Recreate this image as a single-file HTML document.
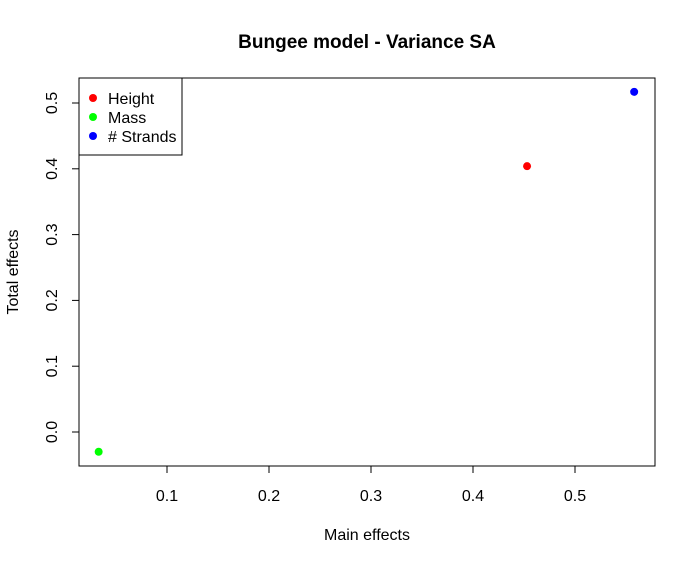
<!DOCTYPE html>
<html><head><meta charset="utf-8"><style>
body{margin:0;background:#fff}
svg text{font-family:"Liberation Sans",sans-serif;fill:#000}
</style></head><body>
<svg id="chart" width="696" height="565">
<text x="367" y="48" text-anchor="middle" font-size="19" font-weight="bold">Bungee model - Variance SA</text>
<rect x="79" y="78" width="576" height="388" fill="none" stroke="#000"/>
<g id="xaxis"></g>
<g id="yaxis"></g>
<text x="367" y="540" text-anchor="middle" font-size="16">Main effects</text>
<text transform="translate(18,272) rotate(-90)" text-anchor="middle" font-size="16">Total effects</text>
<g id="points"></g>
<g>
<rect x="79" y="78" width="103" height="77" fill="#fff" stroke="#000"/>
<g id="legend"></g>
</g>
</svg>
<script>
const names=["Height","Mass","# Strands"];
const mainEffects=[0.453,0.033,0.558];
const totalEffects=[0.404,-0.030,0.517];
const colors=["#ff0000","#00ff00","#0000ff"];
const xTicks=[0.1,0.2,0.3,0.4,0.5];
const yTicks=[0.0,0.1,0.2,0.3,0.4,0.5];
const NS="http://www.w3.org/2000/svg";
const xs=v=>167+(v-0.1)*1020;
const ys=v=>432-v*658;
function mk(t,a,p){const e=document.createElementNS(NS,t);for(const k in a)e.setAttribute(k,a[k]);p.appendChild(e);return e;}
const xa=document.getElementById('xaxis');
mk('line',{x1:xs(0.1),x2:xs(0.5),y1:466,y2:466,stroke:'#000'},xa);
xTicks.forEach(v=>{
 const l=mk('line',{x1:xs(v),x2:xs(v),y1:466,y2:473,stroke:'#000'},xa);
 
 
 const t=mk('text',{x:xs(v),y:501,'text-anchor':'middle','font-size':16},xa);
 
 
 t.textContent=v.toFixed(1);
});
const ya=document.getElementById('yaxis');
mk('line',{x1:79,x2:79,y1:ys(0),y2:ys(0.5),stroke:'#000'},ya);
yTicks.forEach(v=>{
 const l=mk('line',{x1:72,x2:79,y1:ys(v),y2:ys(v),stroke:'#000'},ya);
 
 
 const t=mk('text',{transform:`translate(57,${ys(v)}) rotate(-90)`,'text-anchor':'middle','font-size':16},ya);
 
 
 t.textContent=v.toFixed(1);
});
const pg=document.getElementById('points');
names.forEach((n,i)=>{
 const c=mk('circle',{cx:xs(mainEffects[i]),cy:ys(totalEffects[i]),r:4,fill:colors[i]},pg);
 
 
});
const lg=document.getElementById('legend');
names.forEach((n,i)=>{
 const y=98+i*19;
 const c=mk('circle',{cx:93,cy:y,r:4,fill:colors[i]},lg);
 
 
 const t=mk('text',{x:108,y:y+6,'font-size':16},lg);
 
 
 t.textContent=n;
});
</script>
</body></html>
